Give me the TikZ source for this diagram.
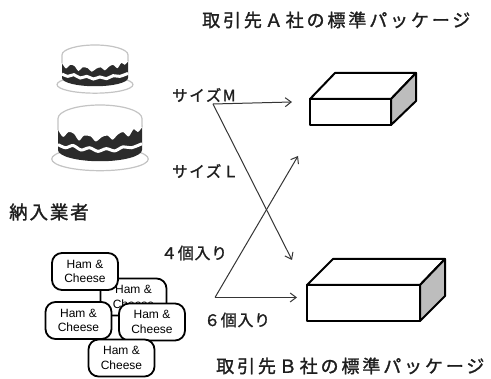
\documentclass[tikz,border=0pt]{standalone}
\usepackage{fontspec}
\setsansfont{Liberation Sans}
\newfontfamily\jpfont[FakeBold=1.4]{Noto Sans CJK JP}
\usetikzlibrary{arrows.meta}
\definecolor{ink}{HTML}{1E1E1E}
\definecolor{choc}{HTML}{2B2B2B}
\definecolor{rim}{HTML}{C4C4C4}
\definecolor{sideshade}{HTML}{BDBDBD}
\tikzset{
  jp/.style={inner sep=0pt, anchor=west, text=ink},
  title/.style={jp, font=\jpfont\fontsize{18}{21}\selectfont\addfontfeatures{LetterSpace=16}},
  sizelabel/.style={jp, font=\jpfont\fontsize{15.5}{18}\selectfont\addfontfeatures{LetterSpace=10}},
  countlabel/.style={jp, font=\jpfont\fontsize{16}{19}\selectfont\addfontfeatures{LetterSpace=4}},
  vendor/.style={jp, font=\jpfont\fontsize{18.5}{21}\selectfont\addfontfeatures{LetterSpace=10}},
  flow/.style={draw=ink!90, line width=1pt, -{Straight Barb[length=6pt,width=9pt]}},
  boxedge/.style={draw=black, line width=2pt, line join=round},
  sandwich/.style={draw=black, line width=1.8pt, rounded corners=10pt, fill=white,
    minimum width=66pt, minimum height=37pt, align=center, inner sep=0pt,
    font=\sffamily\fontsize{12}{14.5}\selectfont},
}
% one layered cake, drawn in unit coordinates (x from -1 to 1, y downward from the top)
\newcommand\layercake[4]{%
  \begin{scope}[shift={(#1,#2)}, xscale=#3, yscale=#4]
    % plate
    \draw[rim, line width=1.2pt, fill=white] (0,1.2) ellipse (1.15 and 0.26);
    % chocolate body
    \fill[choc] (-1,0.45) -- (-1,1.0) arc[start angle=180, end angle=0, x radius=1, y radius=0.25] -- (1,0.45) -- cycle;
    % cream layer between the sponges
    \draw[white, line width=3pt] plot[smooth] coordinates {(-1,0.88) (-0.82,0.95) (-0.64,0.9) (-0.45,1.0) (-0.25,0.95) (-0.05,1.03) (0.15,0.97) (0.35,1.02) (0.55,0.93) (0.75,0.95) (1,0.86)};
    % icing with drips
    \fill[white] (-1,0.3) arc[start angle=180, end angle=360, x radius=1, y radius=0.3] -- (1,0.5)
      -- plot[smooth] coordinates {(1,0.5) (0.9,0.6) (0.8,0.54) (0.68,0.7) (0.55,0.6) (0.42,0.66) (0.3,0.77) (0.18,0.68) (0.05,0.71) (-0.1,0.81) (-0.22,0.7) (-0.38,0.68) (-0.5,0.79) (-0.62,0.64) (-0.75,0.6) (-0.88,0.71) (-1,0.55)} -- cycle;
    % outline of the top
    \draw[rim, line width=1.2pt] (-1,0.56) -- (-1,0.3) arc[start angle=180, end angle=360, x radius=1, y radius=0.3] -- (1,0.5);
  \end{scope}}
\begin{document}
\begin{tikzpicture}[x=1pt, y=-1pt]
  \useasboundingbox[fill=white] (0,0) rectangle (491,379);

  % titles
  \node[title] (titleA) at (202,20) {取引先Ａ社の標準パッケージ};
  \node[title] (titleB) at (216,366) {取引先Ｂ社の標準パッケージ};

  % cakes
  \layercake{95}{45}{33}{33}
  \layercake{100}{105}{42}{45}

  \node[vendor] (vendor) at (9,212) {納入業者};

  % sandwiches
  \node[sandwich] (s2) at (133.5,297) {Ham \&\\Cheese};
  \node[sandwich] (s1) at (85,271.5) {Ham \&\\Cheese};
  \node[sandwich] (s3) at (78.5,320.5) {Ham \&\\Cheese};
  \node[sandwich] (s4) at (152,322) {Ham \&\\Cheese};
  \node[sandwich] (s5) at (121.5,358) {Ham \&\\Cheese};

  % package A
  \filldraw[boxedge, fill=white] (310,99) -- (335,73) -- (416,73) -- (391,99) -- cycle;
  \filldraw[boxedge, fill=sideshade] (391,99) -- (416,73) -- (416,101) -- (391,125) -- cycle;
  \draw[boxedge] (310,99) rectangle (391,125);

  % package B
  \filldraw[boxedge, fill=white] (307,285) -- (333,259) -- (445,259) -- (420,285) -- cycle;
  \filldraw[boxedge, fill=sideshade] (420,285) -- (445,259) -- (445,296) -- (420,321) -- cycle;
  \draw[boxedge] (307,285) rectangle (420,321);

  % labels
  \node[sizelabel] (labM) at (172,95) {サイズM};
  \node[sizelabel] (labL) at (172,171) {サイズＬ};
  \node[countlabel] (lab4) at (161,253) {４個入り};
  \node[countlabel] (lab6) at (204,320) {６個入り};

  % routing arrows
  \coordinate (cakeOut) at (213,104);
  \coordinate (sandOut) at (215,297.5);
  \coordinate (inA) at (292,102);
  \coordinate (inAlow) at (298,156);
  \coordinate (inBhigh) at (292,260);
  \coordinate (inB) at (297,297.5);
  \draw[flow] (cakeOut) -- (inA);
  \draw[flow] (cakeOut) -- (inBhigh);
  \draw[flow] (sandOut) -- (inAlow);
  \draw[flow] (sandOut) -- (inB);
\end{tikzpicture}
\end{document}
